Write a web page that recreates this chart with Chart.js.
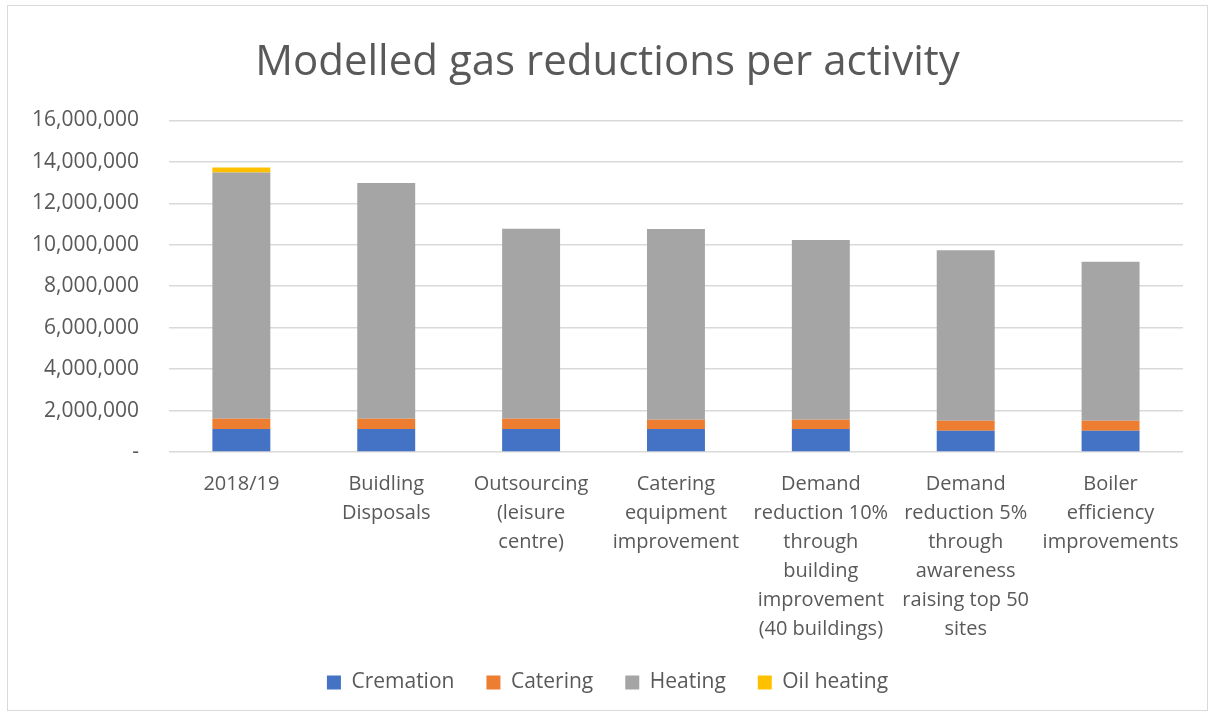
<!DOCTYPE html>
<html>
<head>
<meta charset="utf-8">
<script src="https://cdn.jsdelivr.net/npm/chart.js@4.4.1/dist/chart.umd.min.js"></script>
<style>
  body { margin: 0; background: #fff; }
  #frame { position: absolute; left: 7px; top: 5px; width: 1199px; height: 704px; border: 1px solid #d9d9d9; pointer-events: none; }
  canvas { position: absolute; left: 0; top: 0; }
</style>
</head>
<body>
<canvas id="gas" width="1214" height="715"></canvas>
<div id="frame"></div>
<script>
const categories = [
    ['2018/19'],
    ['Buidling', 'Disposals'],
    ['Outsourcing', '(leisure', 'centre)'],
    ['Catering', 'equipment', 'improvement'],
    ['Demand', 'reduction 10%', 'through', 'building', 'improvement', '(40 buildings)'],
    ['Demand', 'reduction 5%', 'through', 'awareness', 'raising top 50', 'sites'],
    ['Boiler', 'efficiency', 'improvements']
];
const cremation  = [1110000, 1110000, 1110000, 1110000, 1110000, 1030000, 1030000];
const catering   = [500000, 500000, 500000, 450000, 450000, 480000, 480000];
const heating    = [11880000, 11370000, 9160000, 9200000, 8670000, 8230000, 7670000];
const oilHeating = [240000, 0, 0, 0, 0, 0, 0];

const grey = '#595959';
Chart.defaults.font.family = '"Open Sans", sans-serif';
Chart.defaults.color = grey;

new Chart(document.getElementById('gas'), {
    type: 'bar',
    data: {
        labels: categories,
        datasets: [
            { label: 'Cremation', data: cremation, backgroundColor: '#4472C4' },
            { label: 'Catering', data: catering, backgroundColor: '#ED7D31' },
            { label: 'Heating', data: heating, backgroundColor: '#A5A5A5' },
            { label: 'Oil heating', data: oilHeating, backgroundColor: '#FFC000' }
        ]
    },
    options: {
        responsive: false,
        animation: false,
        barPercentage: 0.4,
        categoryPercentage: 1,
        layout: { padding: { left: 32, right: 31, top: 22, bottom: 12 } },
        plugins: {
            title: {
                display: true,
                text: 'Modelled gas reductions per activity',
                color: grey,
                font: { size: 42, weight: 'normal' },
                padding: { top: 16, bottom: 32 }
            },
            legend: {
                position: 'bottom',
                labels: {
                    boxWidth: 14,
                    boxHeight: 14,
                    padding: 32,
                    font: { size: 21 }
                }
            },
            tooltip: { enabled: false }
        },
        scales: {
            x: {
                stacked: true,
                grid: { display: false },
                border: { display: false },
                ticks: { maxRotation: 0, autoSkip: false, font: { size: 20, lineHeight: 1.45 }, padding: 10 },
                afterFit: scale => { scale.height -= 14; }
            },
            y: {
                stacked: true,
                min: 0,
                max: 16000000,
                border: { display: false },
                grid: { color: '#d9d9d9', lineWidth: 1.5, drawTicks: false },
                ticks: {
                    stepSize: 2000000,
                    padding: 30,
                    font: { size: 21 },
                    callback: v => v === 0 ? '-' : v.toLocaleString('en-US')
                },
                afterFit: scale => { scale.width -= 30; }
            }
        }
    }
});
</script>
</body>
</html>
